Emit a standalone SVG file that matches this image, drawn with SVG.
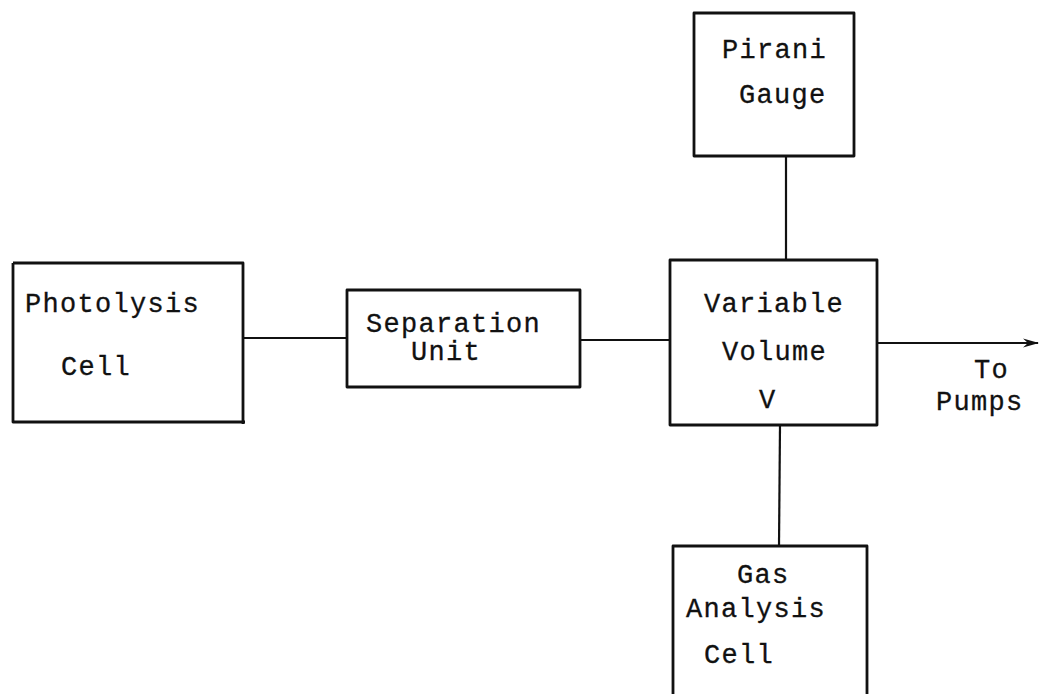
<svg xmlns="http://www.w3.org/2000/svg" width="1039" height="694" viewBox="0 0 1039 694">
<style>
.box{fill:none;stroke:#111;stroke-width:2.8;stroke-linejoin:round}
.con{fill:none;stroke:#111;stroke-width:2.2}
text{font-family:"Liberation Mono","DejaVu Sans Mono",monospace;font-size:27px;letter-spacing:1.3px;fill:#111;stroke:#111;stroke-width:0.3}
</style>
<defs>
<marker id="arr" markerWidth="16" markerHeight="12" refX="15" refY="6" orient="auto" markerUnits="userSpaceOnUse">
<path d="M0,1.5 L16,6 L0,10.5 L5,6 Z" fill="#111"/>
</marker>
</defs>
<g id="connectors">
<line class="con" x1="244" y1="338" x2="347" y2="338"/>
<line class="con" x1="580" y1="340" x2="670" y2="340"/>
<line class="con" x1="786" y1="156" x2="786" y2="260"/>
<line class="con" x1="780" y1="425" x2="779" y2="546"/>
<line class="con" x1="877" y1="343" x2="1038" y2="343" marker-end="url(#arr)"/>
</g>
<g id="photolysis">
<path class="box" d="M13,263 L243,263 L243,424 M13,263 L13,422 L245,422"/>
<text x="25" y="312">Photolysis</text>
<text x="61" y="375">Cell</text>
</g>
<g id="separation">
<rect class="box" x="347" y="290" width="233" height="97"/>
<text x="366" y="332">Separation</text>
<text x="411" y="360">Unit</text>
</g>
<g id="variable">
<rect class="box" x="670" y="260" width="207" height="165"/>
<text x="704" y="312">Variable</text>
<text x="722" y="360">Volume</text>
<text x="759" y="408">V</text>
</g>
<g id="pirani">
<rect class="box" x="694" y="13" width="160" height="143"/>
<text x="722" y="58">Pirani</text>
<text x="739" y="103">Gauge</text>
</g>
<g id="gas">
<path class="box" d="M673,694 L673,546 L867,546 L867,694"/>
<text x="737" y="583">Gas</text>
<text x="686" y="617">Analysis</text>
<text x="704" y="663">Cell</text>
</g>
<g id="pumps-label">
<text x="974" y="378">To</text>
<text x="936" y="410">Pumps</text>
</g>
</svg>
